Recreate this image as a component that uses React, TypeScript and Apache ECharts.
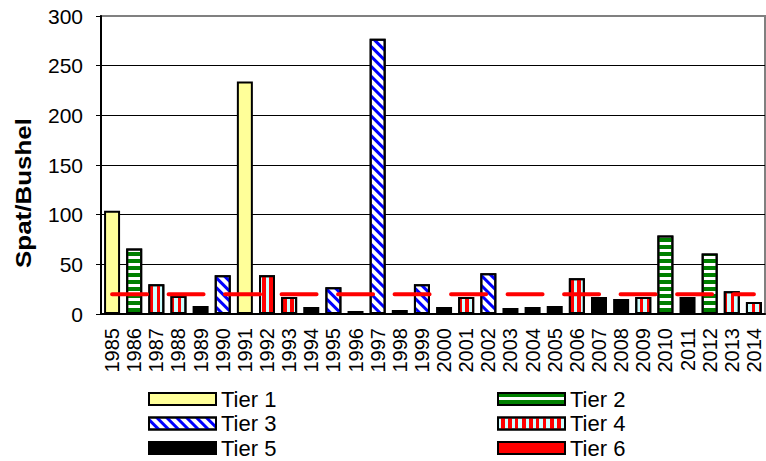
import React, { useEffect, useRef } from "react";
import * as echarts from "echarts";

const years = [
  "1985", "1986", "1987", "1988", "1989", "1990", "1991", "1992", "1993", "1994",
  "1995", "1996", "1997", "1998", "1999", "2000", "2001", "2002", "2003", "2004",
  "2005", "2006", "2007", "2008", "2009", "2010", "2011", "2012", "2013", "2014",
];
const tierOfYear = [1, 2, 4, 4, 5, 3, 1, 4, 4, 5, 3, 5, 3, 6, 3, 5, 4, 3, 5, 5, 5, 4, 5, 5, 4, 2, 5, 2, 4, 4];
const spatValues = [104, 66, 30, 18, 8, 39, 234, 39, 17, 7, 27, 3, 277, 4, 30, 7, 17, 41, 6, 7, 8, 36, 17, 15, 17, 79, 17, 61, 23, 12];
const thresholdValue = 20;
const tierNames = ["Tier 1", "Tier 2", "Tier 3", "Tier 4", "Tier 5", "Tier 6"];
const yTicks = [0, 50, 100, 150, 200, 250, 300];

const FONT = '"Liberation Sans", Arial, sans-serif';

const tierStyles: any[] = [
  { color: "#FFFF99" },
  { color: "#FFFFFF", decal: { symbol: "rect", color: "#008000", dashArrayX: [1, 0], dashArrayY: [4, 3] } },
  { color: "#FFFFFF", decal: { symbol: "rect", color: "#0000FF", dashArrayX: [1, 0], dashArrayY: [3, 4], rotation: Math.PI / 4 } },
  { color: "#CCFFFF", decal: { symbol: "rect", color: "#FF0000", dashArrayX: [1, 0], dashArrayY: [4, 3], rotation: Math.PI / 2 } },
  { color: "#000000" },
  { color: "#FF0000" },
];

export default function App() {
  const ref = useRef<HTMLDivElement>(null);
  useEffect(() => {
    if (!ref.current) return;
    const chart = echarts.init(ref.current, null, { renderer: "svg" });
    const barSeries = tierNames.map((name, t) => ({
      name,
      type: "bar",
      stack: "all",
      barWidth: 16,
      data: spatValues.map((v, i) => (tierOfYear[i] === t + 1 ? v : "-")),
      itemStyle: { ...tierStyles[t], borderColor: "#000", borderWidth: 2 },
    }));
    const legendCommon = {
      orient: "vertical", top: 387, height: 120,
      icon: "rect", itemWidth: 67, itemHeight: 12, itemGap: 0.5, itemTextGap: 8,
      padding: 0,
      itemStyle: { borderColor: "#000", borderWidth: 2 },
      textStyle: { fontSize: 22, color: "#000", fontFamily: FONT, lineHeight: 24 },
      selectedMode: false,
    };
    chart.setOption({
      animation: false,
      backgroundColor: "#fff",
      textStyle: { fontFamily: FONT },
      grid: {
        left: 101, right: 1, top: 16, bottom: 147,
        show: true, borderColor: "#808080", borderWidth: 2, backgroundColor: "transparent",
      },
      legend: [
        { ...legendCommon, data: ["Tier 1", "Tier 3", "Tier 5"], left: 148 },
        { ...legendCommon, data: ["Tier 2", "Tier 4", "Tier 6"], left: 497 },
      ],
      xAxis: {
        type: "category",
        data: years,
        axisLine: { lineStyle: { color: "#000", width: 2 } },
        axisTick: { length: 5, lineStyle: { color: "#000", width: 1 } },
        axisLabel: { rotate: 90, interval: 0, fontSize: 20, color: "#000", margin: 14, fontFamily: FONT },
      },
      yAxis: {
        type: "value",
        min: yTicks[0],
        max: yTicks[yTicks.length - 1],
        interval: 50,
        axisLine: { show: true, lineStyle: { color: "#000", width: 2 } },
        axisTick: { show: true, length: 5, lineStyle: { color: "#000", width: 1 } },
        axisLabel: { fontSize: 21, color: "#000", margin: 18, fontFamily: FONT },
        splitLine: { show: true, showMaxLine: false, lineStyle: { color: "#000", width: 1 } },
      },
      graphic: [
        {
          type: "text",
          x: 23, y: 193, rotation: Math.PI / 2, scaleX: 1.18,
          style: {
            text: "Spat/Bushel",
            font: `bold 22px ${FONT}`,
            fill: "#000",
            textAlign: "center",
            textVerticalAlign: "middle",
          },
        },
      ],
      series: [
        ...barSeries,
        {
          name: "Threshold",
          type: "line",
          data: years.map(() => thresholdValue),
          symbol: "none",
          z: 10,
          lineStyle: { color: "#FF0000", width: 4, type: [35, 21.5], cap: "round" },
        },
      ],
    });
    return () => chart.dispose();
  }, []);
  return <div ref={ref} style={{ width: 766, height: 461, position: "absolute", left: 0, top: 0 }} />;
}
